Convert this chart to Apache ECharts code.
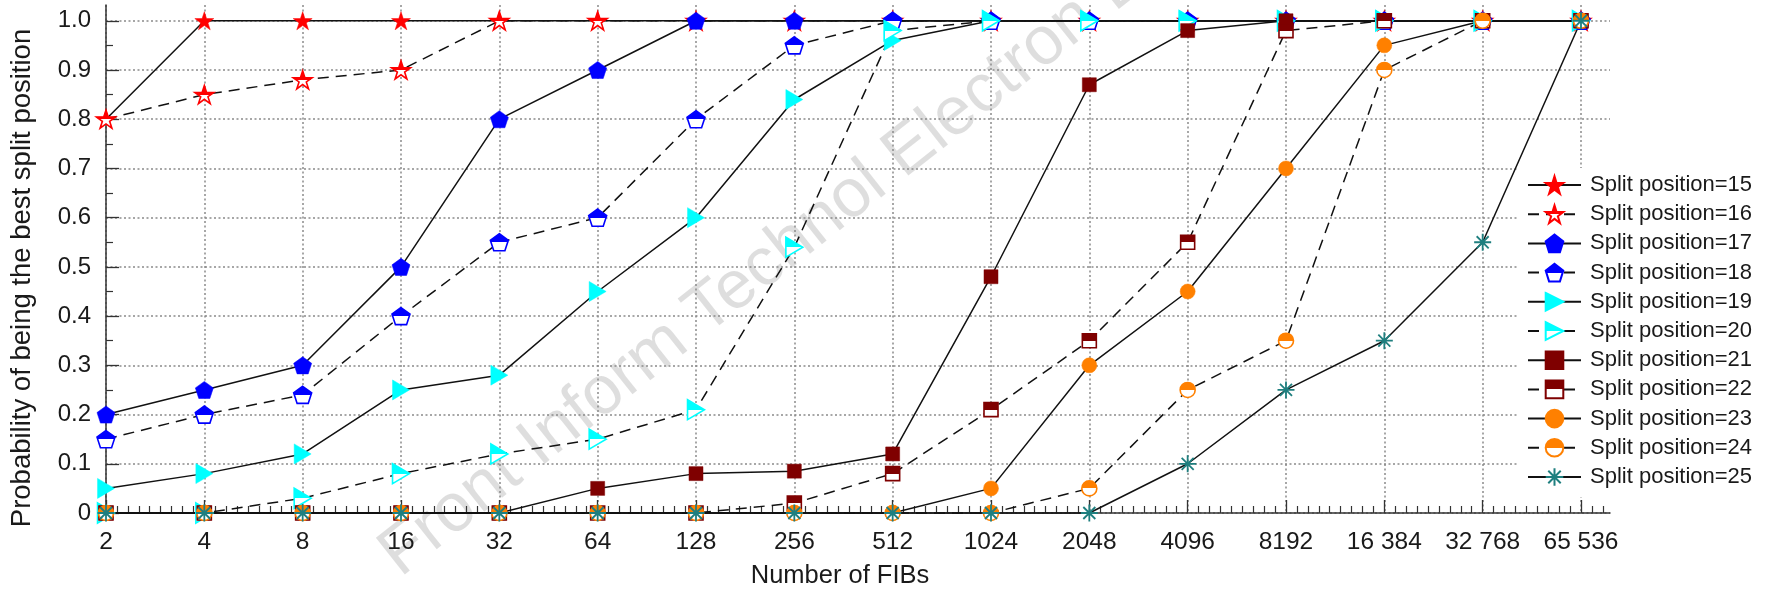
<!DOCTYPE html>
<html>
<head>
<meta charset="utf-8">
<script src="https://cdn.jsdelivr.net/npm/echarts@6/dist/echarts.min.js"></script>
<style>
html,body{margin:0;padding:0;background:#fff;}
#chart{width:1773px;height:594px;}
</style>
</head>
<body>
<div id="chart"></div>
<script>
// ---------- data ----------
const fibCounts = [2, 4, 8, 16, 32, 64, 128, 256, 512, 1024, 2048, 4096, 8192, 16384, 32768, 65536];
const xTickLabels = ['2', '4', '8', '16', '32', '64', '128', '256', '512', '1024', '2048', '4096', '8192', '16 384', '32 768', '65 536'];
const yTicks = [0, 0.1, 0.2, 0.3, 0.4, 0.5, 0.6, 0.7, 0.8, 0.9, 1.0];
const yTickLabels = ['0', '0.1', '0.2', '0.3', '0.4', '0.5', '0.6', '0.7', '0.8', '0.9', '1.0'];
const seriesNames = ['Split position=15', 'Split position=16', 'Split position=17', 'Split position=18',
  'Split position=19', 'Split position=20', 'Split position=21', 'Split position=22',
  'Split position=23', 'Split position=24', 'Split position=25'];
const split15 = [0.8, 1, 1, 1, 1, 1, 1, 1, 1, 1, 1, 1, 1, 1, 1, 1];
const split16 = [0.8, 0.85, 0.88, 0.9, 1, 1, 1, 1, 1, 1, 1, 1, 1, 1, 1, 1];
const split17 = [0.2, 0.25, 0.3, 0.5, 0.8, 0.9, 1, 1, 1, 1, 1, 1, 1, 1, 1, 1];
const split18 = [0.15, 0.2, 0.24, 0.4, 0.55, 0.6, 0.8, 0.95, 1, 1, 1, 1, 1, 1, 1, 1];
const split19 = [0.05, 0.08, 0.12, 0.25, 0.28, 0.45, 0.6, 0.84, 0.96, 1, 1, 1, 1, 1, 1, 1];
const split20 = [0, 0, 0.03, 0.08, 0.12, 0.15, 0.21, 0.54, 0.98, 1, 1, 1, 1, 1, 1, 1];
const split21 = [0, 0, 0, 0, 0, 0.05, 0.08, 0.085, 0.12, 0.48, 0.87, 0.98, 1, 1, 1, 1];
const split22 = [0, 0, 0, 0, 0, 0, 0, 0.02, 0.08, 0.21, 0.35, 0.55, 0.98, 1, 1, 1];
const split23 = [0, 0, 0, 0, 0, 0, 0, 0, 0, 0.05, 0.3, 0.45, 0.7, 0.95, 1, 1];
const split24 = [0, 0, 0, 0, 0, 0, 0, 0, 0, 0, 0.05, 0.25, 0.35, 0.9, 1, 1];
const split25 = [0, 0, 0, 0, 0, 0, 0, 0, 0, 0, 0, 0.1, 0.25, 0.35, 0.55, 1];
const seriesValues = [split15, split16, split17, split18, split19, split20, split21, split22, split23, split24, split25];

// ---------- styles ----------
const STAR = 'path://M0,-10L2.245,-3.09L9.511,-3.09L3.633,1.18L5.878,8.09L0,3.82L-5.878,8.09L-3.633,1.18L-9.511,-3.09L-2.245,-3.09Z';
const PENT = 'path://M0,-10L9.511,-3.09L5.878,8.09L-5.878,8.09L-9.511,-3.09Z';
const TRI = 'path://M0,0L11,6.5L0,13Z';
const SQ = 'rect';
const CIRC = 'circle';
const AST = 'path://M0,-10L0,10M-10,0L10,0M-7.07,-7.07L7.07,7.07M-7.07,7.07L7.07,-7.07';

function half(c) {
  return {type: 'linear', x: 0, y: 0, x2: 0, y2: 1, colorStops: [
    {offset: 0, color: c}, {offset: 0.5, color: c}, {offset: 0.5, color: '#fff'}, {offset: 1, color: '#fff'}]};
}
const styleDefs = [
  {symbol: STAR, size: 19, color: '#ff0000', halfFill: false, dashed: false},
  {symbol: STAR, size: 19, color: '#ff0000', halfFill: true, dashed: true},
  {symbol: PENT, size: 18, color: '#0000ff', halfFill: false, dashed: false},
  {symbol: PENT, size: 18, color: '#0000ff', halfFill: true, dashed: true},
  {symbol: TRI, size: 20, color: '#00ffff', halfFill: false, dashed: false},
  {symbol: TRI, size: 20, color: '#00ffff', halfFill: true, dashed: true},
  {symbol: SQ, size: 14, color: '#7f0000', halfFill: false, dashed: false},
  {symbol: SQ, size: 14, color: '#7f0000', halfFill: true, dashed: true},
  {symbol: CIRC, size: 15, color: '#ff8000', halfFill: false, dashed: false},
  {symbol: CIRC, size: 15, color: '#ff8000', halfFill: true, dashed: true},
  {symbol: AST, size: 17, color: '#1f7f7f', halfFill: false, dashed: false, stroke: true}
];

const series = seriesNames.map((name, i) => {
  const s = styleDefs[i];
  let itemStyle;
  if (s.stroke) {
    itemStyle = {color: 'rgba(0,0,0,0)', borderColor: s.color, borderWidth: 1.8};
  } else if (s.halfFill) {
    itemStyle = {color: half(s.color), borderColor: s.color, borderWidth: 1.6};
  } else {
    itemStyle = {color: s.color, borderColor: s.color, borderWidth: 0.5};
  }
  return {
    name: name,
    type: 'line',
    data: fibCounts.map((n, k) => [Math.log2(n), seriesValues[i][k]]),
    symbol: s.symbol,
    symbolSize: s.size,
    symbolKeepAspect: true,
    showAllSymbol: true,
    clip: false,
    lineStyle: {color: '#111', width: 1.5, type: s.dashed ? [11, 7] : 'solid'},
    itemStyle: itemStyle,
    emphasis: {disabled: true},
    animation: false
  };
});

const xTickVals = fibCounts.map(n => Math.log2(n));
const FONT = 'Liberation Sans, Arial, sans-serif';

const chart = echarts.init(document.getElementById('chart'));
chart.setOption({
  backgroundColor: '#ffffff',
  animation: false,
  grid: {left: 105, right: 163, top: 5, bottom: 78, containLabel: false},
  xAxis: {
    type: 'value',
    min: 1,
    max: 16.295,
    interval: 1,
    name: 'Number of FIBs',
    nameLocation: 'middle',
    nameGap: 50,
    nameTextStyle: {fontFamily: FONT, fontSize: 25.5, color: '#1a1a1a', padding: [0, 36, 0, 0]},
    axisLine: {show: true, onZero: false, lineStyle: {color: '#333', width: 1.5}},
    axisTick: {show: true, inside: true, length: 13, lineStyle: {color: '#333', width: 1.3}, customValues: xTickVals},
    minorTick: {show: true, splitNumber: 9, length: 7, lineStyle: {color: '#333', width: 1.2}},
    axisLabel: {
      customValues: xTickVals,
      fontFamily: FONT, fontSize: 24.5, color: '#1a1a1a', margin: 17,
      formatter: v => { const k = xTickVals.findIndex(t => Math.abs(t - v) < 1e-6); return k >= 0 ? xTickLabels[k] : ''; }
    },
    splitLine: {show: true, lineStyle: {color: '#8a8a8a', width: 1.5, type: [2, 2.5]}}
  },
  yAxis: {
    type: 'value',
    min: 0,
    max: 1.032,
    interval: 0.1,
    name: 'Probability of being the best split position',
    nameLocation: 'middle',
    nameGap: 70,
    nameRotate: 90,
    nameTextStyle: {fontFamily: FONT, fontSize: 27.5, color: '#1a1a1a', padding: [0, 38, 0, 0]},
    axisLine: {show: true, lineStyle: {color: '#333', width: 1.5}},
    axisTick: {show: true, inside: true, length: 13, lineStyle: {color: '#333', width: 1.3}, customValues: yTicks},
    minorTick: {show: true, splitNumber: 2, length: 7, lineStyle: {color: '#333', width: 1.2}},
    axisLabel: {
      customValues: yTicks,
      fontFamily: FONT, fontSize: 24, color: '#1a1a1a', margin: 15,
      formatter: v => { const k = yTicks.findIndex(t => Math.abs(t - v) < 1e-6); return k >= 0 ? yTickLabels[k] : ''; }
    },
    splitLine: {show: true, lineStyle: {color: '#8a8a8a', width: 1.5, type: [2, 2.5]}}
  },
  legend: {
    orient: 'vertical',
    left: 1518,
    top: 168,
    padding: [6, 6, 9, 9],
    backgroundColor: '#ffffff',
    itemWidth: 53,
    itemHeight: 22,
    itemGap: 7.2,
    textStyle: {fontFamily: FONT, fontSize: 22, color: '#1a1a1a', lineHeight: 22, padding: [0, 0, 0, 4]},
    data: seriesNames,
    selectedMode: false
  },
  graphic: [{
    type: 'text',
    x: 410, y: 590,
    rotation: 0.67,
    z: -1,
    silent: true,
    style: {text: 'Front Inform Technol Electron Eng', fontFamily: FONT, fontSize: 68, fill: 'rgba(0,0,0,0.13)', textAlign: 'left', textVerticalAlign: 'bottom'}
  }],
  series: series
});
</script>
</body>
</html>
